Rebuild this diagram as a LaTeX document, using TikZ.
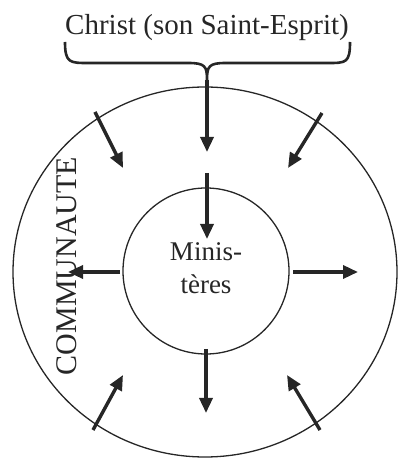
\documentclass[tikz,border=0pt]{standalone}
\usepackage{fontspec}
\setmainfont{Liberation Serif}
\usepackage{tikz}
\usetikzlibrary{arrows.meta}

\begin{document}
\begin{tikzpicture}[x=1pt, y=1pt,
      ring/.style={draw=black!85, line width=1.3pt},
      arr/.style={draw=black!85, line width=3.4pt, -{Triangle[length=15pt, width=13pt]}},
      brace/.style={draw=black!85, line width=2.6pt, line join=round},
      lbl/.style={inner sep=0pt, text=black!85}]
    \useasboundingbox (0,0) rectangle (397,458);
    \coordinate (c) at (205,186);
    \draw[ring] (c) ellipse [x radius=192, y radius=185];
    \node[ring, circle, minimum size=166pt, inner sep=0pt] (min) at (206,187) {};
    \node[lbl, align=center, font=\fontsize{27}{33}\selectfont] (mintxt) at (206,190) {Minis-\\tères};
    \node[lbl, anchor=base, font=\fontsize{29}{34}\selectfont] (christ) at (207,423) {Christ (son Saint-Esprit)};
    \node[lbl, rotate=90, font=\fontsize{30}{34}\selectfont] (comm) at (67,192) {COMMUNAUTE};
    % brace under the title
    \coordinate (tip) at (207,378);
    \draw[brace] (65,416) .. controls (65,395) and (70,395) .. (88,395) -- (188,395)
      .. controls (205,395) and (207,392) .. (tip)
      .. controls (207,392) and (209,395) .. (226,395) -- (328,395)
      .. controls (346,395) and (350,395) .. (350,416);
    % arrows
    \coordinate (top-e) at (207,306);
    \draw[arr] (tip) -- (top-e);
    \foreach \n/\xa/\ya/\xb/\yb in {tl/95/346/123/290, tr/322/345/288/290, in/207/285/207/219,
        lt/120/186/68/186, rt/293/186/358/186, dn/206/109/206/45,
        bl/93/28/123/83, br/320/28/287/83} {
      \coordinate (\n-s) at (\xa,\ya);
      \coordinate (\n-e) at (\xb,\yb);
      \draw[arr] (\n-s) -- (\n-e);
    }
  \end{tikzpicture}
\end{document}
